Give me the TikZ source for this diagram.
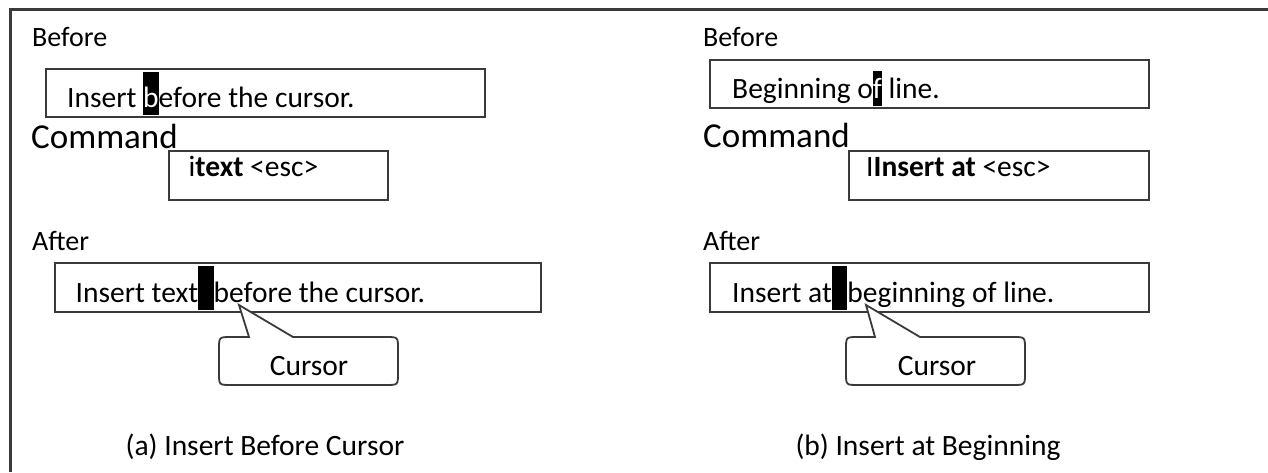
\documentclass[tikz,border=0pt]{standalone}
\usepackage{fontspec}
\setmainfont{Carlito}
\definecolor{linegray}{HTML}{3A3A3A}
\newcommand\hlt[2]{{\setbox0\hbox{#2}\rlap{\color{black}\rule[-8pt]{\wd0}{#1}}\textcolor{white}{#2}}}
\newcommand\cblk{{\color{black}\rule[-8pt]{15.5pt}{44pt}}}
\tikzset{
  boxst/.style={draw=linegray, line width=2pt, inner sep=0pt},
  txt/.style={anchor=base west, inner sep=0pt, font=\fontsize{29.5}{34}\selectfont},
  lbl/.style={anchor=base west, inner sep=0pt, font=\fontsize{28}{34}\selectfont},
  cmd/.style={anchor=base west, inner sep=0pt, font=\fontsize{35}{40}\selectfont},
  capt/.style={anchor=base, inner sep=0pt, font=\fontsize{29.5}{34}\selectfont},
  callout/.style={draw=linegray, line width=1.8pt, fill=white, line join=miter},
}
\begin{document}
\begin{tikzpicture}[x=1pt,y=-1pt]
\useasboundingbox (0,0) rectangle (1268,472);
% frame
\coordinate (fbl) at (10,472);
\coordinate (ftl) at (10,9);
\coordinate (ftr) at (1268,9);
\draw[linegray, line width=3pt] (fbl) -- (ftl) -- (ftr);

% ---------- left panel ----------
\node[lbl] (lbefore) at (32,46) {Before};
\node[boxst, minimum width=439pt, minimum height=48pt] (lb1) at (265,93) {};
\node[txt] (lt1) at (67,107) {Insert \hlt{43pt}{b}efore the cursor.};
\node[cmd] (lcmd) at (31,148) {Command};
\node[boxst, minimum width=219pt, minimum height=49pt] (lb2) at (278.5,175.5) {};
\node[txt] (lt2) at (188.5,176) {i\textbf{text} <esc>};
\node[lbl] (lafter) at (32,250) {After};
\node[boxst, minimum width=486pt, minimum height=49pt] (lb3) at (298,287.5) {};
\node[txt] (lt3) at (75.5,302) {Insert text\cblk before the cursor.};
\coordinate (ltip) at (239,305);
\draw[callout] (249,337) -- (ltip) -- (293,337) -- (386,337)
  .. controls (398,337) .. (398,349) -- (398,373)
  .. controls (398,385) .. (386,385) -- (231,385)
  .. controls (219,385) .. (219,373) -- (219,349)
  .. controls (219,337) .. (231,337) -- cycle;
\node[capt] (lcur) at (309,375) {Cursor};
\node[capt] (lcap) at (265,455) {(a) Insert Before Cursor};

% ---------- right panel ----------
\node[lbl] (rbefore) at (703,46) {Before};
\node[boxst, minimum width=439pt, minimum height=48pt] (rb1) at (929.5,84) {};
\node[txt] (rt1) at (732,98) {Beginning o\hlt{35pt}{f} line.};
\node[cmd] (rcmd) at (703,147) {Command};
\node[boxst, minimum width=300pt, minimum height=49pt] (rb2) at (999,175.5) {};
\node[txt] (rt2) at (866,176) {I\textbf{Insert at} <esc>};
\node[lbl] (rafter) at (703,250) {After};
\node[boxst, minimum width=439pt, minimum height=49pt] (rb3) at (929.5,287.5) {};
\node[txt] (rt3) at (732,302) {Insert at\cblk beginning of line.};
\coordinate (rtip) at (866,305);
\draw[callout] (875,337) -- (rtip) -- (920,337) -- (1013,337)
  .. controls (1025,337) .. (1025,349) -- (1025,373)
  .. controls (1025,385) .. (1013,385) -- (858,385)
  .. controls (846,385) .. (846,373) -- (846,349)
  .. controls (846,337) .. (858,337) -- cycle;
\node[capt] (rcur) at (937,375) {Cursor};
\node[capt] (rcap) at (928,455) {(b) Insert at Beginning};
\end{tikzpicture}
\end{document}
